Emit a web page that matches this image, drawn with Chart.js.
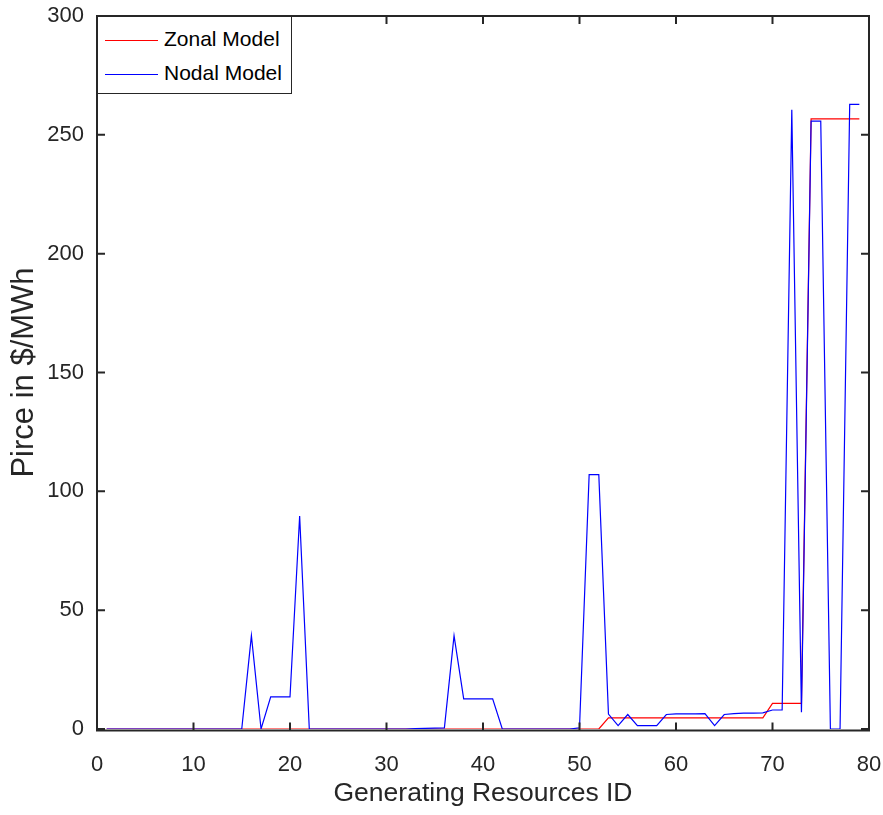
<!DOCTYPE html>
<html>

<head>
    <title>Zonal vs Nodal Price</title>
    <script src="https://cdn.jsdelivr.net/npm/chart.js"></script>
    <style>
        body {
            margin: 0;
            background: #fff;
        }

        #wrap {
            position: relative;
            width: 883px;
            height: 815px;
        }

        #legend {
            position: absolute;
            left: 97px;
            top: 16px;
            width: 193px;
            height: 76px;
            border: 1px solid #262626;
            background: #fff;
            font-family: 'Liberation Sans', Arial, sans-serif;
            font-size: 21px;
            color: #000;
        }

        .item {
            position: absolute;
            left: 7px;
            height: 24px;
            line-height: 24px;
            white-space: nowrap;
        }

        .swatch {
            display: inline-block;
            width: 53px;
            height: 0;
            vertical-align: middle;
            margin-right: 6px;
        }
    </style>
</head>

<body>
    <div id="wrap">
        <canvas id="chart" width="883" height="815"></canvas>
        <div id="legend"></div>
    </div>

    <script>
        // Generating resource IDs
        const ids = [1, 2, 3, 4, 5, 6, 7, 8, 9, 10, 11, 12, 13, 14, 15, 16, 17, 18, 19, 20,
            21, 22, 23, 24, 25, 26, 27, 28, 29, 30, 31, 32, 33, 34, 35, 36, 37, 38, 39, 40,
            41, 42, 43, 44, 45, 46, 47, 48, 49, 50, 51, 52, 53, 54, 55, 56, 57, 58, 59, 60,
            61, 62, 63, 64, 65, 66, 67, 68, 69, 70, 71, 72, 73, 74, 75, 76, 77, 78, 79];

        // Price in $/MWh, zonal model
        const zonalPrice = [0, 0, 0, 0, 0, 0, 0, 0, 0, 0, 0, 0, 0, 0, 0, 0, 0, 0, 0, 0,
            0, 0, 0, 0, 0, 0, 0, 0, 0, 0, 0, 0, 0, 0, 0, 0, 0, 0, 0, 0,
            0, 0, 0, 0, 0, 0, 0, 0, 0, 0, 0, 0, 4.7, 4.7, 4.7, 4.7, 4.7, 4.7, 4.7, 4.7,
            4.7, 4.7, 4.7, 4.7, 4.7, 4.7, 4.7, 4.7, 4.7, 10.8, 10.8, 10.8, 10.8, 256.7, 256.7, 256.7, 256.7, 256.7, 256.7];

        // Price in $/MWh, nodal model
        const nodalPrice = [0, 0, 0, 0, 0, 0, 0, 0, 0, 0, 0, 0, 0, 0, 0, 39.3, 0, 13.5, 13.5, 13.5,
            89.6, 0, 0, 0, 0, 0, 0, 0, 0, 0, 0, 0, 0.2, 0.3, 0.4, 0.5, 39.3, 12.7, 12.7, 12.7,
            12.7, 0, 0, 0, 0, 0, 0, 0, 0, 0.5, 107, 107, 6.3, 1.4, 6.1, 1.4, 1.4, 1.4, 6.1, 6.4,
            6.4, 6.4, 6.5, 1.4, 6.1, 6.5, 6.7, 6.7, 6.8, 8, 8, 260.5, 7, 255.8, 255.8, 0, 0, 262.8, 262.8];

        const xTicks = [0, 10, 20, 30, 40, 50, 60, 70, 80];
        const yTicks = [0, 50, 100, 150, 200, 250, 300];

        const seriesNames = ['Zonal Model', 'Nodal Model'];
        const seriesColors = ['#ff0000', '#0000ff'];

        const FONT = "'Liberation Sans', Arial, sans-serif";
        const AXIS = '#262626';

        // legend box (sits inside the plot, top left)
        var legend = document.getElementById('legend');
        seriesNames.forEach(function (name, i) {
            var item = document.createElement('div');
            item.className = 'item';
            item.style.top = (10 + i * 34) + 'px';
            item.innerHTML = '<span class="swatch" style="border-top:1px solid ' + seriesColors[i] + '"></span>' + name;
            legend.appendChild(item);
        });

        // box around the plot + inward ticks on all four sides
        var boxPlugin = {
            id: 'box',
            afterDraw: function (chart) {
                var ctx = chart.ctx;
                var a = chart.chartArea;
                var sx = chart.scales.x, sy = chart.scales.y;
                var len = 8;
                ctx.save();
                ctx.strokeStyle = AXIS;
                ctx.lineWidth = 2;
                ctx.beginPath();
                ctx.rect(a.left, a.top, a.right - a.left, a.bottom - a.top + 1.5);
                ctx.stroke();
                ctx.beginPath();
                xTicks.forEach(function (v) {
                    var px = sx.getPixelForValue(v);
                    ctx.moveTo(px, a.bottom + 1.5);
                    ctx.lineTo(px, a.bottom + 1.5 - len);
                    ctx.moveTo(px, a.top);
                    ctx.lineTo(px, a.top + len);
                });
                yTicks.forEach(function (v) {
                    var py = sy.getPixelForValue(v);
                    ctx.moveTo(a.left, py);
                    ctx.lineTo(a.left + len, py);
                    ctx.moveTo(a.right, py);
                    ctx.lineTo(a.right - len, py);
                });
                ctx.stroke();
                ctx.restore();
            }
        };

        var ctx = document.getElementById('chart').getContext('2d');
        var chart = new Chart(ctx, {
            type: 'line',
            data: {
                datasets: [{
                    label: seriesNames[0],
                    data: ids.map((id, i) => ({ x: id, y: zonalPrice[i] })),
                    borderColor: seriesColors[0],
                    borderWidth: 1.2,
                    pointRadius: 0,
                    tension: 0,
                    order: 1
                }, {
                    label: seriesNames[1],
                    data: ids.map((id, i) => ({ x: id, y: nodalPrice[i] })),
                    borderColor: seriesColors[1],
                    borderWidth: 1.2,
                    pointRadius: 0,
                    tension: 0,
                    order: 0
                }]
            },
            options: {
                responsive: false,
                animation: false,
                layout: {
                    padding: { top: 16, right: 14, left: 0, bottom: 0 }
                },
                plugins: {
                    legend: { display: false },
                    tooltip: { enabled: false }
                },
                scales: {
                    x: {
                        type: 'linear',
                        min: 0,
                        max: 80,
                        afterBuildTicks: function (s) { s.ticks = xTicks.map(v => ({ value: v })); },
                        afterFit: function (s) {
                            s.height = 86;
                            s.paddingLeft = 0;
                            s.paddingRight = 0;
                        },
                        grid: { display: false, drawTicks: false },
                        border: { display: false },
                        ticks: {
                            padding: 23,
                            color: AXIS,
                            font: { family: FONT, size: 22 }
                        },
                        title: {
                            display: true,
                            text: 'Generating Resources ID',
                            color: AXIS,
                            padding: { top: 0, bottom: 5 },
                            font: { family: FONT, size: 26.5 }
                        }
                    },
                    y: {
                        min: 0,
                        max: 300,
                        afterBuildTicks: function (s) { s.ticks = yTicks.map(v => ({ value: v })); },
                        afterFit: function (s) {
                            s.width = 97;
                            s.paddingTop = 0;
                            s.paddingBottom = 0;
                        },
                        grid: { display: false, drawTicks: false },
                        border: { display: false },
                        ticks: {
                            padding: 13,
                            color: AXIS,
                            font: { family: FONT, size: 22 }
                        },
                        title: {
                            display: true,
                            text: 'Pirce in $/MWh',
                            color: AXIS,
                            padding: { top: 6, bottom: 0 },
                            font: { family: FONT, size: 31 }
                        }
                    }
                }
            },
            plugins: [boxPlugin]
        });
    </script>
</body>

</html>
